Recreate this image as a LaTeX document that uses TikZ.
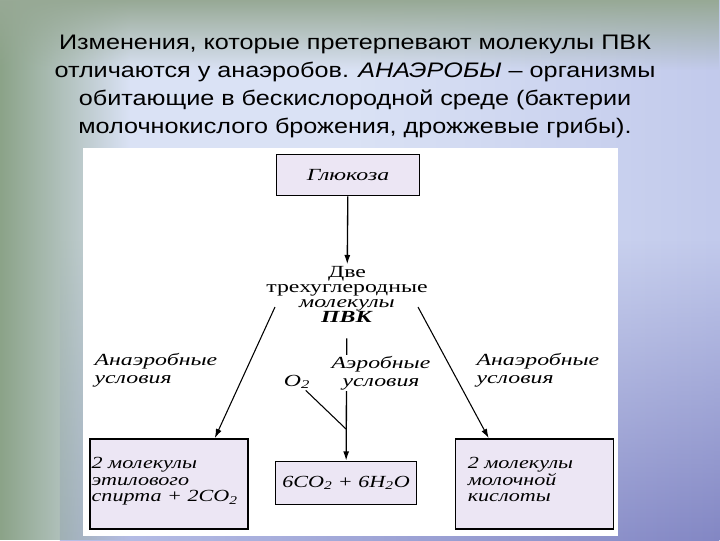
\documentclass[tikz,border=0pt]{standalone}
\usepackage{fontspec}
\newfontfamily\titlefont[FakeStretch=1.2]{Liberation Sans}
\newfontfamily\diagfont[FakeStretch=1.4]{Liberation Serif}
\newfontfamily\boxfont[FakeStretch=1.3]{Liberation Serif}
\usepackage{tikz}
\usepackage{xcolor}
\usetikzlibrary{arrows.meta, calc, fadings}

\definecolor{boxfill}{HTML}{ECE6F4}
\definecolor{bgmid}{HTML}{DAE2F5}
\definecolor{bgright}{HTML}{C2CAEC}
\definecolor{bggreen}{HTML}{8BA388}
\definecolor{bgtop}{HTML}{97A995}
\definecolor{bgviolet}{HTML}{8387C4}
\definecolor{bgblue}{HTML}{B9C1E8}

\begin{document}
\begin{tikzpicture}[x=0.75pt, y=-0.75pt,
  box/.style={draw, line width=1.2pt, fill=boxfill, inner sep=0pt,
    font=\boxfont\itshape\fontsize{12.75}{12.4}\selectfont},
  cond/.style={font=\diagfont\itshape\fontsize{12.75}{13.5}\selectfont, align=left, inner sep=1pt},
  arr/.style={-{Latex[length=7pt, width=4.5pt]}, line width=1pt},
]

% фон
\useasboundingbox (0,0) rectangle (720,540);
\fill[bgmid] (0,0) rectangle (720,540);
\fill[bgright, path fading=west] (360,0) rectangle (720,540);
\shade[left color=bgblue, right color=bgviolet, path fading=north] (60,240) rectangle (720,540);
\fill[bggreen, path fading=east] (0,0) rectangle (130,540);
\fill[bgtop, path fading=south] (0,0) rectangle (720,70);
\fill[white] (83,148) rectangle (618,536);

% заголовок
\node[font=\titlefont\fontsize{15.75}{21}\selectfont, align=center] (title) at (355,86)
  {Изменения, которые претерпевают молекулы ПВК\\
   отличаются у анаэробов. \textit{АНАЭРОБЫ} – организмы\\
   обитающие в бескислородной среде (бактерии\\
   молочнокислого брожения, дрожжевые грибы).};

% глюкоза и ПВК
\node[box, font=\diagfont\itshape\fontsize{12.75}{12.4}\selectfont, minimum width=107pt, minimum height=31pt] (glucose) at (348,175) {Глюкоза};
\node[font=\diagfont\fontsize{12.75}{11.25}\selectfont, align=center, inner sep=1pt] (pvk) at (347,294)
  {Две\\трехуглеродные\\\textit{молекулы}\\\textbf{\textit{ПВК}}};
\coordinate (pl) at (275,307);
\coordinate (pr) at (418,307);

% продукты
\node[box, minimum width=118.5pt, minimum height=67.5pt] (ethanol) at (169,484)
  {\parbox[c][40pt][t]{116pt}{2 молекулы\\этилового\\спирта + 2CO\textsubscript{2}}};
\node[box, minimum width=105.75pt, minimum height=32.25pt] (co2) at (346,483)
  {6CO\textsubscript{2} + 6H\textsubscript{2}O};
\node[box, minimum width=118.5pt, minimum height=67.5pt] (lactic) at (534.5,484)
  {\parbox[c][40pt][t]{100pt}{2 молекулы\\молочной\\кислоты}};

% стрелки
\coordinate (jn) at ($(pvk.south)!0.77!(co2.north)$);
\draw[arr] (glucose) -- (pvk);
\draw[arr, line width=0.8pt] (pl) -- (ethanol.45);
\draw[arr, line width=0.8pt] (pr) -- (lactic.135);
\draw[arr, shorten <=11pt] (pvk) -- (co2);

% условия
\node[cond] (o2) at (297,382) {O\textsubscript{2}};
\draw[line width=0.8pt] (o2) -- (jn);
\node[cond, anchor=west] (anl) at (93,370) {Анаэробные\\условия};
\node[cond, anchor=west] (anr) at (475,370) {Анаэробные\\условия};
\node[cond, fill=white, align=center] (aer) at (381,373) {Аэробные\\условия};

\end{tikzpicture}
\end{document}
